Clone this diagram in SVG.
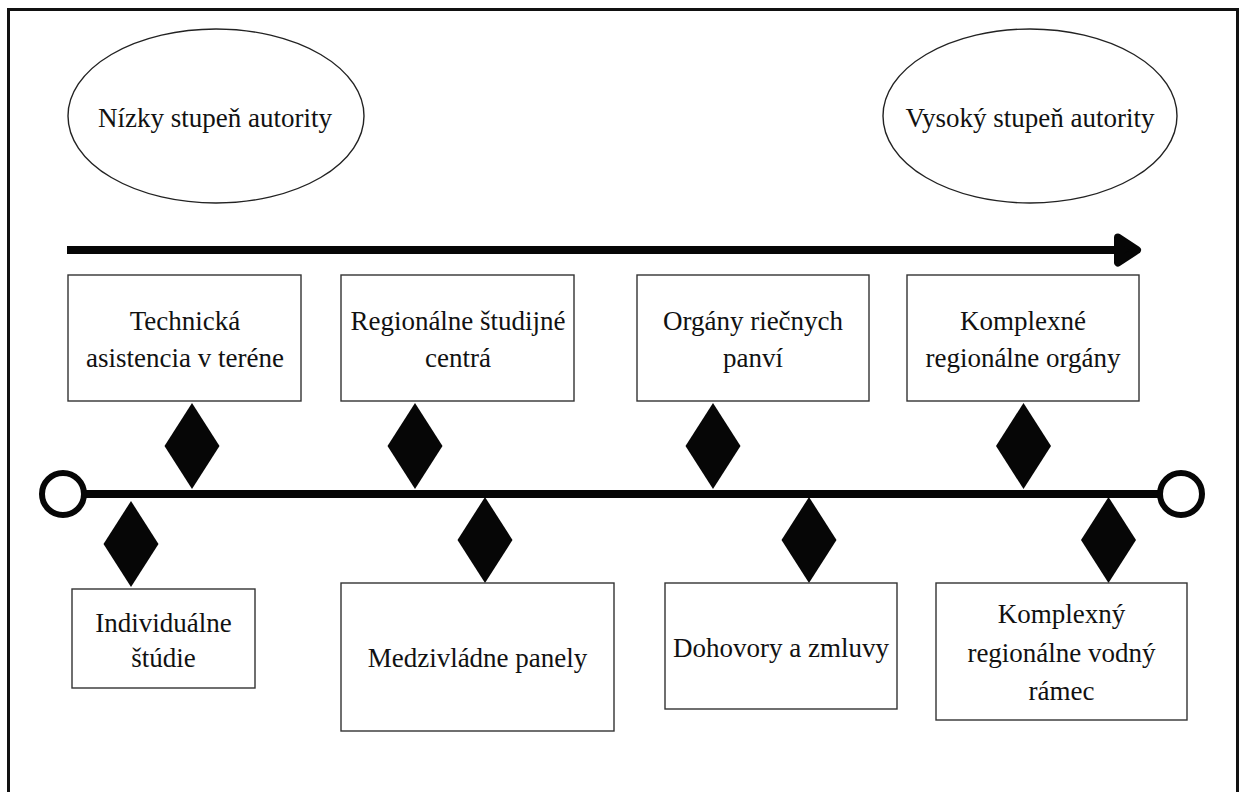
<svg xmlns="http://www.w3.org/2000/svg" width="1244" height="792" viewBox="0 0 1244 792">
<style>
text{font-family:"Liberation Serif","Times New Roman",serif;font-size:27px;fill:#111;text-anchor:middle}
.box{fill:#fff;stroke:#333;stroke-width:1.4}
.ell{fill:#fff;stroke:#222;stroke-width:1.4}
.dia{fill:#060606}
.end{fill:#fff;stroke:#060606;stroke-width:6}
</style>
<rect x="0" y="0" width="1244" height="792" fill="#fff"/>
<rect x="8.5" y="9.5" width="1229" height="800" fill="none" stroke="#111" stroke-width="3"/>
<g id="low-authority"><ellipse class="ell" cx="216" cy="116" rx="148" ry="87"/><text x="215" y="127">Nízky stupeň autority</text></g>
<g id="high-authority"><ellipse class="ell" cx="1030" cy="116" rx="147" ry="87"/><text x="1030" y="127">Vysoký stupeň autority</text></g>
<g id="connectors">
<line x1="67" y1="250" x2="1122" y2="250" stroke="#060606" stroke-width="8"/>
<polygon points="1118,237.5 1137,250 1118,262.5" fill="#060606" stroke="#060606" stroke-width="8" stroke-linejoin="round"/>
<line x1="84" y1="494" x2="1160" y2="494" stroke="#060606" stroke-width="8"/>
<circle class="end" cx="63" cy="494" r="21"/>
<circle class="end" cx="1181" cy="494" r="21"/>
<polygon class="dia" points="192,403 219.5,446 192,489 164.5,446"/>
<polygon class="dia" points="415,403 442.5,446 415,489 387.5,446"/>
<polygon class="dia" points="713,403 740.5,446 713,489 685.5,446"/>
<polygon class="dia" points="1023.5,403 1051,446 1023.5,489 996,446"/>
<polygon class="dia" points="131,501 158.5,544 131,587 103.5,544"/>
<polygon class="dia" points="485,497 512.5,540 485,583 457.5,540"/>
<polygon class="dia" points="809,497 836.5,540 809,583 781.5,540"/>
<polygon class="dia" points="1108.5,497 1136,540 1108.5,583 1081,540"/>
</g>
<g id="technicka"><rect class="box" x="68" y="275" width="233" height="126"/><text x="185" y="330">Technická</text><text x="185" y="367">asistencia v teréne</text></g>
<g id="regionalne-centra"><rect class="box" x="341" y="275" width="233" height="126"/><text x="458" y="330">Regionálne študijné</text><text x="458" y="367">centrá</text></g>
<g id="organy-povodi"><rect class="box" x="637" y="275" width="232" height="126"/><text x="753" y="330">Orgány riečnych</text><text x="753" y="367">panví</text></g>
<g id="komplexne-organy"><rect class="box" x="907" y="275" width="232" height="126"/><text x="1023" y="330">Komplexné</text><text x="1023" y="367">regionálne orgány</text></g>
<g id="individualne"><rect class="box" x="72" y="589" width="183" height="99"/><text x="163.5" y="632">Individuálne</text><text x="163.5" y="667">štúdie</text></g>
<g id="medzivladne"><rect class="box" x="341" y="583" width="273" height="148"/><text x="477.5" y="667">Medzivládne panely</text></g>
<g id="dohovory"><rect class="box" x="665" y="583" width="232" height="126"/><text x="781" y="657">Dohovory a zmluvy</text></g>
<g id="komplexny-ramec"><rect class="box" x="936" y="583" width="251" height="137"/><text x="1061.5" y="623">Komplexný</text><text x="1061.5" y="662">regionálne vodný</text><text x="1061.5" y="700">rámec</text></g>
</svg>
